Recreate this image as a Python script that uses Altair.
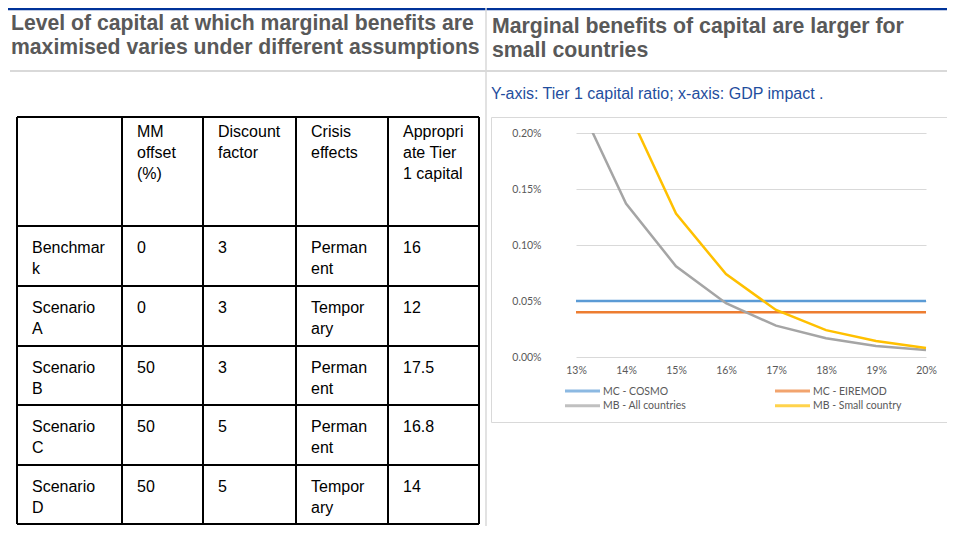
import altair as alt
import pandas as pd

# ---------------- text ----------------
TITLE_LEFT = "Level of capital at which marginal benefits are\nmaximised varies under different assumptions"
TITLE_RIGHT = "Marginal benefits of capital are larger for\nsmall countries"
SUBTITLE = "Y-axis: Tier 1 capital ratio; x-axis: GDP impact ."

# ---------------- line chart data ----------------
RATIOS = ["13%", "14%", "15%", "16%", "17%", "18%", "19%", "20%"]
SERIES = ["MC - COSMO", "MC - EIREMOD", "MB - All countries", "MB - Small country"]
COLORS = ["#5B9BD5", "#ED7D31", "#A5A5A5", "#FFC000"]
MC_COSMO = [0.0005, 0.0005, 0.0005, 0.0005, 0.0005, 0.0005, 0.0005, 0.0005]
MC_EIREMOD = [0.0004, 0.0004, 0.0004, 0.0004, 0.0004, 0.0004, 0.0004, 0.0004]
MB_ALL = [0.00232, 0.00137, 0.00081, 0.00048, 0.00028, 0.000167, 0.000098, 0.000063]
MB_SMALL = [0.0039, 0.00224, 0.00128, 0.00074, 0.00042, 0.00024, 0.000143, 0.00008]
Y_TICKS = [0.0, 0.0005, 0.001, 0.0015, 0.002]

# ---------------- table data ----------------
TABLE_HEADER = ["", "MM\noffset\n(%)", "Discount\nfactor", "Crisis\neffects", "Appropri\nate Tier\n1 capital"]
ROW_LABELS = ["Benchmar\nk", "Scenario\nA", "Scenario\nB", "Scenario\nC", "Scenario\nD"]
MM_OFFSET = ["0", "0", "50", "50", "50"]
DISCOUNT = ["3", "3", "3", "5", "5"]
CRISIS = ["Perman\nent", "Tempor\nary", "Perman\nent", "Perman\nent", "Tempor\nary"]
TIER1 = ["16", "12", "17.5", "16.8", "14"]

# ---------------- layout (pixels, relative to the plot area origin) ----------------
COL_EDGES = [-534, -429, -348, -255, -163, -72]
ROW_EDGES = [-16, 93, 153, 213, 272, 332, 391]

FONT = "Liberation Sans"
TICKFONT = "Lato"
GREY_TXT = "#595959"

# ---- line chart ----
rows = []
for name, vals in zip(SERIES, [MC_COSMO, MC_EIREMOD, MB_ALL, MB_SMALL]):
    for r, v in zip(RATIOS, vals):
        rows.append({"series": name, "ratio": r, "value": v})
line_df = pd.DataFrame(rows)

color = alt.Color("series:N", scale=alt.Scale(domain=SERIES, range=COLORS), legend=None)

lines = alt.Chart(line_df).mark_line(clip=True, strokeWidth=2.5).encode(
    x=alt.X("ratio:N", sort=RATIOS,
            scale=alt.Scale(type="point", padding=0, range=[25, 375]),
            axis=alt.Axis(title=None, domain=False, ticks=False, labelAngle=0, grid=False,
                          labelFont=TICKFONT, labelFontSize=10.5, labelColor=GREY_TXT,
                          labelPadding=8, labelOverlap=False)),
    y=alt.Y("value:Q", scale=alt.Scale(domain=[0, 0.002], nice=False, zero=True),
            axis=alt.Axis(title=None, values=Y_TICKS, format=".2%", domain=False, ticks=False,
                          grid=True, gridColor="#d9d9d9", gridWidth=1,
                          labelFont=TICKFONT, labelFontSize=10.5, labelColor=GREY_TXT,
                          labelPadding=10)),
    color=color,
)

# ---- legend (manual) ----
leg_df = pd.DataFrame({
    "series": SERIES,
    "col": [i % 2 for i in range(len(SERIES))],
    "row": [i // 2 for i in range(len(SERIES))],
})
lx = alt.Scale(domain=[0, 1], range=[31.5, 241.5], nice=False, zero=False)
ly = alt.Scale(domain=[0, 1], range=[258, 272.7], nice=False, zero=False)
leg_sym = alt.Chart(leg_df).mark_tick(orient="horizontal", size=35, thickness=3).encode(
    x=alt.X("col:Q", scale=lx, axis=None),
    y=alt.Y("row:Q", scale=ly, axis=None),
    color=color,
)
leg_txt = alt.Chart(leg_df).mark_text(align="left", baseline="middle", dx=20.5, dy=0.5,
                                      font=TICKFONT, fontSize=10.5, color=GREY_TXT).encode(
    x=alt.X("col:Q", scale=lx, axis=None),
    y=alt.Y("row:Q", scale=ly, axis=None),
    text="series:N",
)
legend = alt.layer(leg_sym, leg_txt)

# ---- table ----
cells = []
for c, h in enumerate(TABLE_HEADER):
    cells.append({"col": c, "row": 0, "text": h})
for r in range(len(ROW_LABELS)):
    for c, v in enumerate([ROW_LABELS[r], MM_OFFSET[r], DISCOUNT[r], CRISIS[r], TIER1[r]]):
        cells.append({"col": c, "row": r + 1, "text": v})
cell_df = pd.DataFrame(cells)

tx = alt.Scale(domain=list(range(len(COL_EDGES))), range=COL_EDGES, nice=False, zero=False)
ty = alt.Scale(domain=list(range(len(ROW_EDGES))), range=ROW_EDGES, nice=False, zero=False)

head_txt = alt.Chart(cell_df[cell_df.row == 0]).mark_text(
    align="left", baseline="alphabetic", dx=15, dy=20, lineBreak="\n", lineHeight=21,
    font=FONT, fontSize=16, color="black").encode(
    x=alt.X("col:Q", scale=tx, axis=None), y=alt.Y("row:Q", scale=ty, axis=None), text="text:N")
body_txt = alt.Chart(cell_df[cell_df.row > 0]).mark_text(
    align="left", baseline="alphabetic", dx=15, dy=27, lineBreak="\n", lineHeight=21,
    font=FONT, fontSize=16, color="black").encode(
    x=alt.X("col:Q", scale=tx, axis=None), y=alt.Y("row:Q", scale=ty, axis=None), text="text:N")

vb = pd.DataFrame({"b": list(range(len(COL_EDGES))), "top": 0, "bottom": len(ROW_EDGES) - 1})
hb = pd.DataFrame({"r": list(range(len(ROW_EDGES))), "left": 0, "right": len(COL_EDGES) - 1})
vlines = alt.Chart(vb).mark_rule(color="black", strokeWidth=2).encode(
    x=alt.X("b:Q", scale=tx, axis=None), y=alt.Y("top:Q", scale=ty, axis=None), y2="bottom:Q")
hlines = alt.Chart(hb).mark_rule(color="black", strokeWidth=2).encode(
    y=alt.Y("r:Q", scale=ty, axis=None), x=alt.X("left:Q", scale=tx, axis=None), x2="right:Q")
table = alt.layer(vlines, hlines, head_txt, body_txt)

# ---- decorations ----
one = pd.DataFrame({"k": [0]})
deco = alt.layer(
    alt.Chart(one).mark_rule(color="#003399", strokeWidth=2.5).encode(
        x=alt.value(-545), x2=alt.value(410), y=alt.value(-124)),
    alt.Chart(one).mark_rule(color="#d9d9d9", strokeWidth=2).encode(
        x=alt.value(-541), x2=alt.value(410), y=alt.value(-62)),
    alt.Chart(one).mark_rule(color="#d9d9d9", strokeWidth=1.5).encode(
        x=alt.value(-65), y=alt.value(-126), y2=alt.value(400)),
    alt.Chart(one).mark_rect(fillOpacity=0, stroke="#d9d9d9", strokeWidth=1).encode(
        x=alt.value(-59.5), x2=alt.value(410), y=alt.value(-15.5), y2=alt.value(289.5)),
    alt.Chart(one).mark_text(align="left", baseline="alphabetic", lineBreak="\n", lineHeight=24,
                             font=FONT, fontSize=21.2, fontWeight="bold", color=GREY_TXT).encode(
        x=alt.value(-540), y=alt.value(-103), text=alt.value(TITLE_LEFT)),
    alt.Chart(one).mark_text(align="left", baseline="alphabetic", lineBreak="\n", lineHeight=24,
                             font=FONT, fontSize=21.3, fontWeight="bold", color=GREY_TXT).encode(
        x=alt.value(-59), y=alt.value(-100), text=alt.value(TITLE_RIGHT)),
    alt.Chart(one).mark_text(align="left", baseline="alphabetic",
                             font=FONT, fontSize=16, color="#1F4E9E").encode(
        x=alt.value(-60), y=alt.value(-34), text=alt.value(SUBTITLE)),
)

chart = alt.layer(deco, table, lines, legend).resolve_scale(
    x="independent", y="independent"
).properties(
    width=396, height=224,
    padding={"left": 543, "top": 125, "right": 0, "bottom": 169},
    autosize=alt.AutoSizeParams(type="none"),
    background="white",
).configure_view(stroke=None)

chart.save("out.html", embed_options={"renderer": "svg", "actions": False})
